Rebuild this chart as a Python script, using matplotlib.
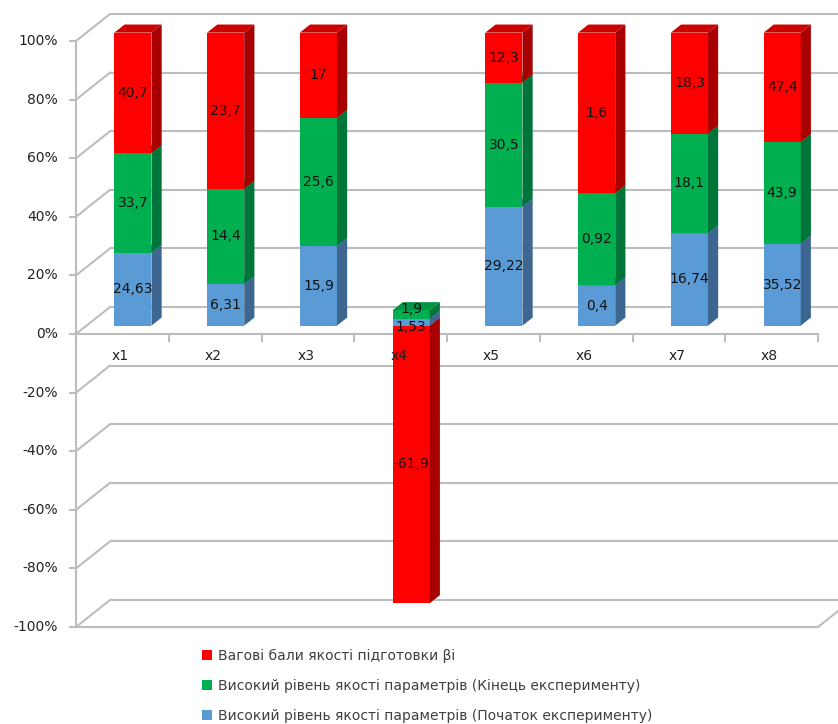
import matplotlib
matplotlib.use("Agg")
import matplotlib.pyplot as plt
from matplotlib.patches import Polygon, Patch

# ---------------- data ----------------
categories = ["x1", "x2", "x3", "x4", "x5", "x6", "x7", "x8"]
start_vals = [24.63, 6.31, 15.9, 1.53, 29.22, 0.4, 16.74, 35.52]   # blue
end_vals = [33.7, 14.4, 25.6, 1.9, 30.5, 0.92, 18.1, 43.9]          # green
weight_vals = [40.7, 23.7, 17, -61.9, 12.3, 1.6, 18.3, 47.4]        # red
series_names = [
    "Високий рівень якості параметрів (Початок експерименту)",
    "Високий рівень якості параметрів (Кінець експерименту)",
    "Вагові бали якості підготовки βі",
]
y_ticks = [-100, -80, -60, -40, -20, 0, 20, 40, 60, 80, 100]
y_tick_labels = [f"{t}%" for t in y_ticks]

# ---------------- style ----------------
front_cols = ["#5B9BD5", "#00B050", "#FF0000"]
side_cols = ["#3D6791", "#00753A", "#A80000"]
top_cols = ["#4C82B8", "#009445", "#CC0000"]
grid_col = "#BDBDBD"
text_col = "#222222"

W, H = 838, 724
PXX = 92.75          # pixels per category unit
PXY = 2.93           # pixels per percent
X0PX = 76            # left axis pixel
Y0PX = 334           # zero line pixel (from top)
DX = 34 / PXX        # wall depth (data units)
DY = 27 / PXY
F0 = 0.31            # bar front position inside depth
FD = 0.30            # bar depth fraction
BW = 0.40            # bar width
MIN_SEP = 18 / PXY   # minimal vertical distance between labels of one bar

fig = plt.figure(figsize=(W / 100, H / 100), dpi=100)
ax = fig.add_axes([0, 0, 1, 1])
ax.set_xlim(0.5 - X0PX / PXX, 0.5 + (W - X0PX) / PXX)
ax.set_ylim((Y0PX - H) / PXY, Y0PX / PXY)
ax.axis("off")

n = len(categories)
xl_axis = 0.5
xr_axis = n + 0.5
right_edge = ax.get_xlim()[1] + 1
LW = 1.5

# back wall gridlines + side-wall diagonals
for t, lab in zip(y_ticks, y_tick_labels):
    ax.plot([xl_axis + DX, right_edge], [t + DY, t + DY], color=grid_col, lw=LW, zorder=1,
            solid_capstyle="butt")
    ax.plot([xl_axis, xl_axis + DX], [t, t + DY], color=grid_col, lw=LW, zorder=1)
    ax.plot([xl_axis - 6 / PXX, xl_axis], [t, t], color=grid_col, lw=LW, zorder=1)
    ax.text(xl_axis - 18 / PXX, t, lab, ha="right", va="center",
            fontsize=10, color=text_col, zorder=10)

# vertical axis
ax.plot([xl_axis, xl_axis], [y_ticks[0], y_ticks[-1]], color=grid_col, lw=LW, zorder=2)
# category axis at 0 (front) with ticks
ax.plot([xl_axis, xr_axis], [0, 0], color=grid_col, lw=LW, zorder=2)
for k in range(n + 1):
    ax.plot([k + 0.5, k + 0.5], [0, -7 / PXY], color=grid_col, lw=LW, zorder=2)
# floor front edge and right diagonal
ax.plot([xl_axis, xr_axis], [y_ticks[0], y_ticks[0]], color=grid_col, lw=LW, zorder=2)
ax.plot([xr_axis, xr_axis + DX], [y_ticks[0], y_ticks[0] + DY], color=grid_col, lw=LW, zorder=2)

# category labels
for i, c in enumerate(categories):
    ax.text(i + 1 - 2 / PXX, -22 / PXY, c, ha="center", va="center", fontsize=10,
            color=text_col, zorder=12)


def fmt(v):
    return f"{v:g}".replace(".", ",")


series = [start_vals, end_vals, weight_vals]
ddx, ddy = FD * DX, FD * DY
for i in range(n):
    vals = [s[i] for s in series]
    total = sum(abs(v) for v in vals)
    pcts = [v / total * 100 for v in vals]
    pos_b, neg_b = 0.0, 0.0
    segs = []
    for j, p in enumerate(pcts):
        if p >= 0:
            segs.append((j, pos_b, pos_b + p))
            pos_b += p
        else:
            segs.append((j, neg_b + p, neg_b))
            neg_b += p
    order = sorted(segs, key=lambda s: (s[2] > 0 and s[1] >= 0, s[1]))
    xc = i + 1 + F0 * DX
    labels = []
    for z, (j, b, t) in enumerate(order):
        zb = 3 + z * 0.1
        yb, yt = b + F0 * DY, t + F0 * DY
        ax.bar(xc, t - b, bottom=yb, width=BW, color=front_cols[j], zorder=zb, linewidth=0)
        xr = xc + BW / 2
        xl = xc - BW / 2
        ax.add_patch(Polygon([(xr, yb), (xr, yt), (xr + ddx, yt + ddy), (xr + ddx, yb + ddy)],
                             closed=True, facecolor=side_cols[j], edgecolor="none", zorder=zb))
        ax.add_patch(Polygon([(xl, yt), (xr, yt), (xr + ddx, yt + ddy), (xl + ddx, yt + ddy)],
                             closed=True, facecolor=top_cols[j], edgecolor="none", zorder=zb))
        labels.append([(yb + yt) / 2, fmt(vals[j])])
    # spread labels that would collide
    labels.sort(key=lambda l: l[0])
    for k in range(1, len(labels)):
        gap = labels[k][0] - labels[k - 1][0]
        if gap < MIN_SEP:
            mid = (labels[k][0] + labels[k - 1][0]) / 2
            labels[k - 1][0] = mid - MIN_SEP / 2
            labels[k][0] = mid + MIN_SEP / 2
    for y, s in labels:
        ax.text(xc, y, s, ha="center", va="center", fontsize=10, color="#111111", zorder=11)

handles = [Patch(facecolor=front_cols[j], edgecolor="none", label=series_names[j])
           for j in (2, 1, 0)]
leg = ax.legend(handles=handles, loc="upper left", bbox_to_anchor=(202 / W, 1 - 649 / H),
                frameon=False, fontsize=10, handlelength=0.75, handleheight=0.75,
                handletextpad=0.4, labelspacing=1.15, borderpad=0, borderaxespad=0)
for txt in leg.get_texts():
    txt.set_color("#404040")

fig.savefig("out.png", dpi=100)
